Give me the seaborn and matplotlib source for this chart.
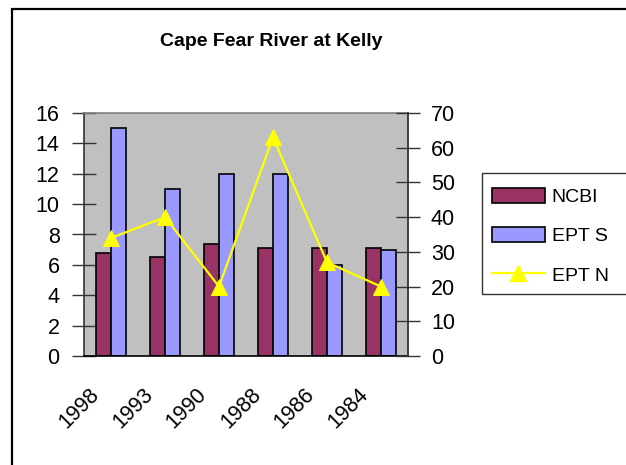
import numpy as np
import pandas as pd
import matplotlib
matplotlib.use("Agg")
import matplotlib.pyplot as plt
import matplotlib.transforms as mtransforms
from matplotlib.patches import Patch, Rectangle
from matplotlib.lines import Line2D
import seaborn as sns

# Sampling years and biotic index values
years = ["1998", "1993", "1990", "1988", "1986", "1984"]
ncbi = [6.8, 6.5, 7.4, 7.1, 7.1, 7.1]
ept_s = [15, 11, 12, 12, 6, 7]
ept_n = [34, 40, 20, 63, 27, 20]

left_ticks = [0, 2, 4, 6, 8, 10, 12, 14, 16]
right_ticks = [0, 10, 20, 30, 40, 50, 60, 70]

NCBI_COLOR = "#993366"
EPTS_COLOR = "#9999FF"
EPTN_COLOR = "#FFFF00"

sns.set_style("white")
plt.rcParams["font.family"] = ["Liberation Sans", "DejaVu Sans"]
plt.rcParams["text.color"] = "black"
plt.rcParams["xtick.color"] = "black"
plt.rcParams["ytick.color"] = "black"

W, H = 626, 465
fig = plt.figure(figsize=(W / 100, H / 100), dpi=100)

def fx(px):
    return px / W

def fy(py):
    return 1 - py / H

# chart-area frame (runs off the right and bottom edges)
fig.patches.append(Rectangle((fx(12), fy(470)), fx(700), fy(9) - fy(470),
                             transform=fig.transFigure, fill=False,
                             edgecolor="black", linewidth=1.6, zorder=0))

ax = fig.add_axes([fx(84), fy(356), fx(408) - fx(84), fy(113) - fy(356)])
ax.set_facecolor("#C0C0C0")

df = pd.DataFrame({
    "year": years * 2,
    "value": ncbi + ept_s,
    "series": ["NCBI"] * len(years) + ["EPT S"] * len(years),
})
sns.barplot(data=df, x="year", y="value", hue="series", order=years,
            hue_order=["NCBI", "EPT S"],
            palette={"NCBI": NCBI_COLOR, "EPT S": EPTS_COLOR},
            width=0.5714, gap=0, saturation=1, edgecolor="black",
            linewidth=1.2, ax=ax, legend=False, zorder=2)

ax.set_xlim(-0.5, len(years) - 0.5)
ax.set_ylim(0, 16)
ax.set_yticks(left_ticks)
ax.set_yticklabels([str(t) for t in left_ticks])
ax.set_xlabel("")
ax.set_ylabel("")

# category boundaries get tick marks, centres get the labels
ax.set_xticks(np.arange(-0.5, len(years), 1.0))
ax.set_xticklabels([])
ax.set_xticks(np.arange(len(years)), minor=True)
ax.set_xticklabels(years, minor=True, rotation=45, ha="right", va="top",
                   fontsize=15.5)
ax.tick_params(axis="x", which="minor", length=0, pad=20)
ax.tick_params(axis="x", which="major", direction="inout", length=16,
               width=1, color="#333333")
ax.tick_params(axis="y", direction="inout", length=17, width=1,
               color="#333333", labelsize=15.5, pad=9)
shift = mtransforms.ScaledTranslation(-8 / 100, 0, fig.dpi_scale_trans)
for lab in ax.get_xticklabels(minor=True):
    lab.set_transform(lab.get_transform() + shift)

for side, col in [("left", "#333333"), ("bottom", "black"),
                  ("top", "#808080"), ("right", "#808080")]:
    ax.spines[side].set_visible(True)
    ax.spines[side].set_color(col)
    ax.spines[side].set_linewidth(1.2)

ax2 = ax.twinx()
sns.lineplot(x=np.arange(len(years)), y=ept_n, ax=ax2, color=EPTN_COLOR,
             linewidth=1.6, marker="^", markersize=12,
             markeredgecolor=EPTN_COLOR, markerfacecolor=EPTN_COLOR,
             zorder=5)
ax2.set_ylim(0, 70)
ax2.set_yticks(right_ticks)
ax2.set_yticklabels([str(t) for t in right_ticks])
ax2.tick_params(axis="y", direction="inout", length=17, width=1,
                color="#333333", labelsize=15.5, pad=8)
ax2.set_ylabel("")
for side in ["left", "top", "bottom"]:
    ax2.spines[side].set_visible(False)
ax2.spines["right"].set_color("#333333")
ax2.spines["right"].set_linewidth(1.2)

fig.text(fx(271), fy(41), "Cape Fear River at Kelly", ha="center",
         va="center", fontsize=14, fontweight="bold")

# legend box (extends past the right edge)
fig.patches.append(Rectangle((fx(482), fy(294)), fx(200), fy(173) - fy(294),
                             transform=fig.transFigure, fill=False,
                             edgecolor="#333333", linewidth=1.0, zorder=1))
handles = [
    Patch(facecolor=NCBI_COLOR, edgecolor="black", linewidth=1.2),
    Patch(facecolor=EPTS_COLOR, edgecolor="black", linewidth=1.2),
    Line2D([0], [0], color=EPTN_COLOR, linewidth=1.6, marker="^",
           markersize=12, markeredgecolor=EPTN_COLOR),
]
fig.legend(handles, ["NCBI", "EPT S", "EPT N"], loc="upper left",
           bbox_to_anchor=(fx(477), fy(173)), bbox_transform=fig.transFigure,
           frameon=False, fontsize=14, handlelength=2.75, handleheight=0.82,
           handletextpad=0.35, borderpad=0.75, borderaxespad=0,
           labelspacing=1.08)

fig.savefig("out.png", dpi=100)
